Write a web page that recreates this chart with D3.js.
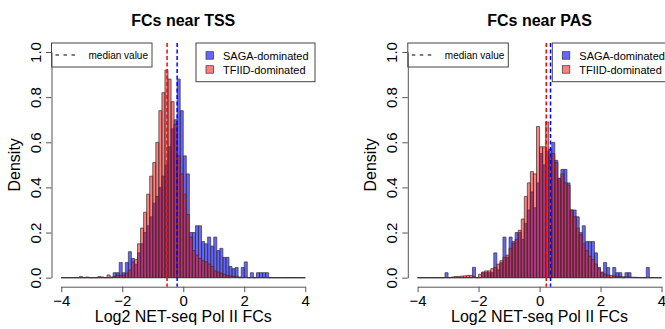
<!DOCTYPE html>
<html><head><meta charset="utf-8">
<script src="https://cdn.jsdelivr.net/npm/d3@7"></script>
<style>
html,body{margin:0;padding:0;background:#fff;}
svg{display:block;font-family:"Liberation Sans",Arial,Helvetica,sans-serif;}
</style></head><body>
<svg id="chart" width="665" height="329"></svg>
<script>
// ---- data ----
const titles = ["FCs near TSS", "FCs near PAS"];
const xLabel = "Log2 NET-seq Pol II FCs";
const yLabel = "Density";
const seriesNames = ["SAGA-dominated", "TFIID-dominated"];
const medianLabel = "median value";
const xTicks = [-4, -2, 0, 2, 4];
const yTicks = [0, 0.2, 0.4, 0.6, 0.8, 1.0];
// histogram breaks: -4 to 4 in steps of 0.1 (80 bins)
const breaks = d3.range(81).map(i => +(-4 + i * 0.1).toFixed(1));

// densities per bin, bins starting at -4.0, -3.9, ..., 3.9
const tssSAGA = [
  0,0,0,0,0,0,0,0,0,0,
  0,0,0,0,0,0,0,0.022,0.022,0.067,
  0.022,0.067,0.115,0.085,0.06,0.11,0.15,0.2,0.23,0.27,
  0.33,0.36,0.4,0.45,0.5,0.58,0.66,0.7,0.88,0.74,
  0.54,0.46,0.2,0.2,0.23,0.23,0.16,0.15,0.18,0.14,
  0.18,0.12,0.13,0.09,0.09,0.05,0.04,0.045,0,0.045,
  0.07,0,0.022,0,0.022,0.022,0.022,0.022,0,0,
  0,0,0,0,0,0,0,0,0,0
];
const tssTFIID = [
  0,0,0,0,0,0,0.005,0,0.003,0,
  0,0,0.005,0.003,0,0.012,0.003,0.005,0.012,0.01,
  0.012,0.02,0.034,0.07,0.08,0.15,0.22,0.29,0.37,0.45,
  0.51,0.6,0.74,0.82,0.92,0.88,0.78,0.68,0.54,0.46,
  0.37,0.28,0.18,0.12,0.1,0.085,0.075,0.07,0.06,0.05,
  0.03,0.025,0.02,0.015,0.01,0.008,0.006,0.004,0.003,0,
  0.002,0,0,0,0,0,0,0,0,0,
  0,0,0,0,0,0,0,0,0,0
];
const pasSAGA = [
  0,0,0,0,0,0,0,0,0,0.022,
  0,0,0,0,0,0,0,0,0.046,0,
  0,0.022,0.022,0.022,0.022,0.11,0.035,0.066,0.18,0.09,
  0.18,0.16,0.2,0.2,0.17,0.24,0.3,0.38,0.31,0.42,
  0.55,0.5,0.56,0.57,0.6,0.52,0.44,0.48,0.48,0.42,
  0.3,0.3,0.27,0.2,0.23,0.16,0.16,0.16,0.11,0.045,
  0.022,0.067,0.045,0,0.045,0.022,0.022,0,0.022,0.022,
  0,0,0,0,0,0.045,0,0,0,0
];
const pasTFIID = [
  0,0,0,0,0,0,0,0,0,0,
  0,0.003,0.005,0.005,0.007,0.008,0.01,0.01,0.005,0,
  0.015,0.025,0.03,0.03,0.04,0.045,0.06,0.075,0.09,0.1,
  0.13,0.15,0.17,0.21,0.26,0.36,0.42,0.47,0.46,0.67,
  0.58,0.58,0.69,0.53,0.55,0.51,0.44,0.46,0.42,0.41,
  0.3,0.27,0.22,0.19,0.15,0.12,0.095,0.08,0.06,0.04,
  0.025,0.015,0.012,0.01,0.008,0.006,0.005,0.004,0.003,0.003,
  0.002,0.002,0.001,0,0,0,0,0,0,0
];
// medians [SAGA, TFIID]
const tssMedians = [-0.2, -0.53];
const pasMedians = [0.36, 0.22];

// ---- drawing ----
const svg = d3.select("#chart");
const FONT = '"Liberation Sans",Arial,Helvetica,sans-serif';
const blueFill = "rgba(0,0,255,0.6)";
const redFill = "rgba(255,0,0,0.5)";
const panels = [
  {title: titles[0], left: 51.5, saga: tssSAGA, tfiid: tssTFIID, med: tssMedians},
  {title: titles[1], left: 407.8, saga: pasSAGA, tfiid: pasTFIID, med: pasMedians}
];
const plotW = 263.5, plotTop = 43, plotBottom = 286.7;

panels.forEach(p => {
  const g = svg.append("g");
  const x = d3.scaleLinear().domain([-4.32, 4.32]).range([p.left, p.left + plotW]);
  const y = d3.scaleLinear().domain([-0.04, 1.04]).range([plotBottom, plotTop]);

  const bars = (vals, fill) => g.append("g").selectAll("path").data(vals).join("path")
    .attr("d", (d, i) => {
      const x0 = x(breaks[i]), x1 = x(breaks[i + 1]);
      return `M${x0},${y(0)}H${x1}V${y(d)}H${x0}Z`;
    })
    .attr("fill", fill).attr("stroke", "#333").attr("stroke-width", 0.7);
  bars(p.saga, blueFill);
  bars(p.tfiid, redFill);

  // median lines
  [[p.med[1], "#ff0000"], [p.med[0], "#0000ff"]].forEach(([m, c]) => {
    g.append("line").attr("x1", x(m)).attr("x2", x(m)).attr("y1", plotTop).attr("y2", plotBottom)
      .attr("stroke", c).attr("stroke-width", 1.5).attr("stroke-dasharray", "4,2.5");
  });

  // legend 1: median value
  g.append("rect").attr("x", p.left).attr("y", plotTop).attr("width", 100.5).attr("height", 24)
    .attr("fill", "#fff").attr("stroke", "#444").attr("stroke-width", 1);
  g.append("line").attr("x1", p.left + 4).attr("x2", p.left + 28).attr("y1", plotTop + 12).attr("y2", plotTop + 12)
    .attr("stroke", "#000").attr("stroke-width", 1).attr("stroke-dasharray", "3.5,4.5");
  g.append("text").attr("x", p.left + 37).attr("y", plotTop + 15.5).attr("font-size", 10)
    .attr("font-family", FONT).text(medianLabel);

  // legend 2: series
  const lx = p.left + plotW - 119;
  g.append("rect").attr("x", lx).attr("y", plotTop).attr("width", 119).attr("height", 38.7)
    .attr("fill", "#fff").attr("stroke", "#444").attr("stroke-width", 1);
  [[blueFill, seriesNames[0]], [redFill, seriesNames[1]]].forEach(([c, t], i) => {
    g.append("rect").attr("x", lx + 10).attr("y", plotTop + 8.7 + i * 14).attr("width", 7.5).attr("height", 7.5)
      .attr("fill", c).attr("stroke", "#333").attr("stroke-width", 0.7);
    g.append("text").attr("x", lx + 27).attr("y", plotTop + 16.6 + i * 14).attr("font-size", 11)
      .attr("font-family", FONT).text(t);
  });

  // x axis
  const xa = d3.scaleLinear().domain([-4, 4]).range([x(-4), x(4)]);
  const xg = g.append("g").attr("transform", `translate(0,${plotBottom})`)
    .call(d3.axisBottom(xa).tickValues(xTicks).tickSizeInner(5.5).tickSizeOuter(0).tickPadding(3).tickFormat(d3.format("d")));
  xg.attr("font-size", 15).attr("font-family", FONT);
  xg.selectAll("path,line").attr("stroke", "#555");
  xg.selectAll("text").attr("fill", "#000");

  // y axis
  const ya = d3.scaleLinear().domain([0, 1]).range([y(0), y(1)]);
  const yg = g.append("g").attr("transform", `translate(${p.left},0)`)
    .call(d3.axisLeft(ya).tickValues(yTicks).tickSizeInner(5.5).tickSizeOuter(0).tickFormat(d3.format(".1f")));
  yg.attr("font-size", 15).attr("font-family", FONT);
  yg.selectAll("path,line").attr("stroke", "#555");
  yg.selectAll("text").attr("fill", "#000").attr("x", 0).attr("dy", null).attr("y", -10.5)
    .attr("transform", "rotate(-90)").attr("text-anchor", "middle");

  // labels
  const cx = (p.left + p.left + plotW) / 2;
  g.append("text").attr("x", cx).attr("y", 26).attr("text-anchor", "middle")
    .attr("font-size", 16).attr("font-weight", "bold").attr("font-family", FONT).text(p.title);
  g.append("text").attr("x", cx).attr("y", 322).attr("text-anchor", "middle")
    .attr("font-size", 16).attr("font-family", FONT).text(xLabel);
  g.append("text").attr("transform", `translate(${p.left - 31.7},${(plotTop + plotBottom) / 2}) rotate(-90)`)
    .attr("text-anchor", "middle").attr("font-size", 16).attr("font-family", FONT).text(yLabel);
});
</script>
</body></html>
